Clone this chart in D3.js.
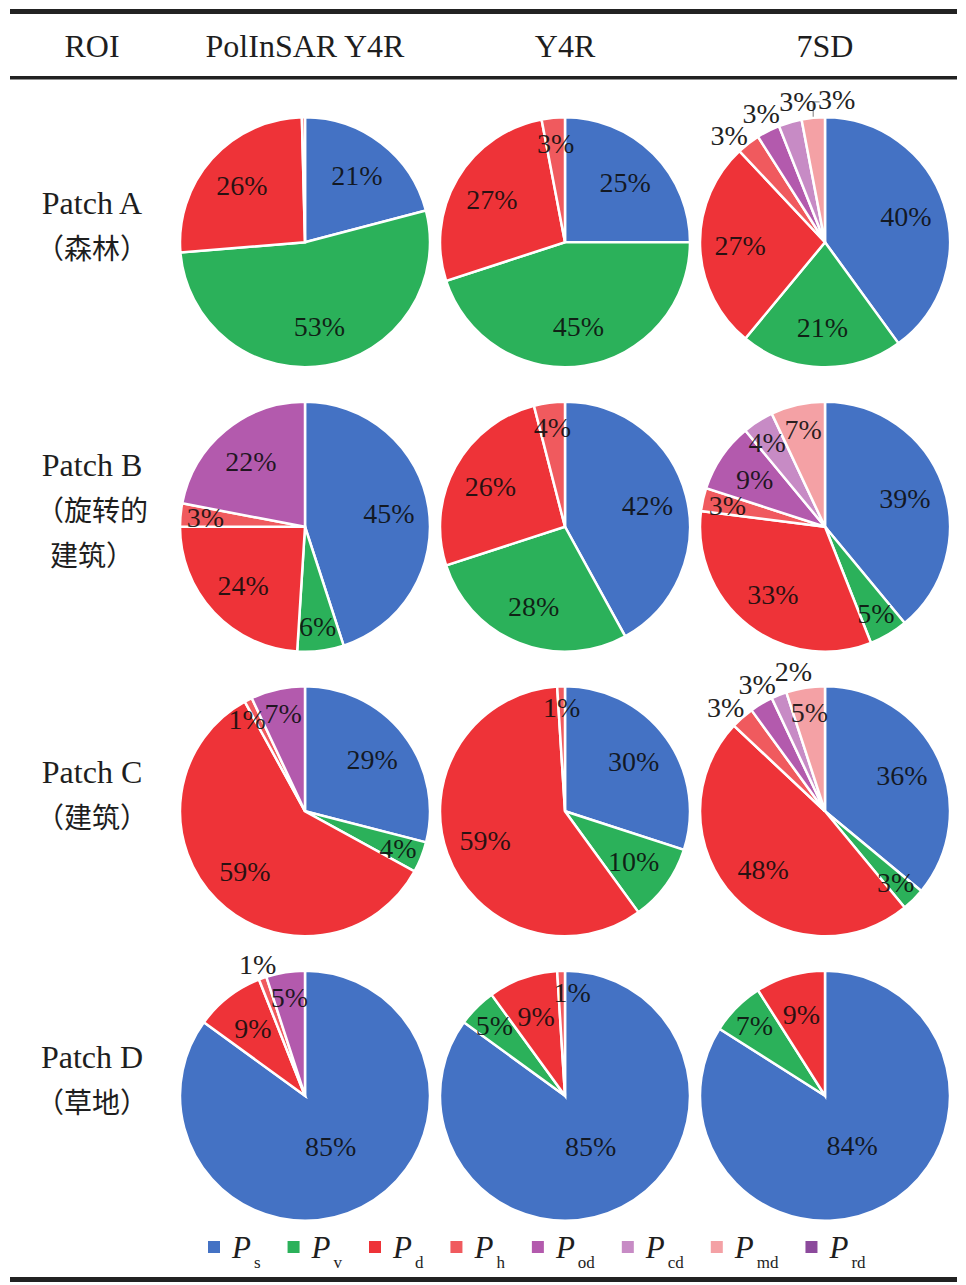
<!DOCTYPE html>
<html>
<head>
<meta charset="utf-8">
<script src="https://cdn.jsdelivr.net/npm/d3@7"></script>
<style>
body { margin: 0; background: #fff; }
svg text { font-family: "Liberation Serif", "DejaVu Serif", "Times New Roman", serif; fill: #1e1e1e; }
svg text.cjk { font-family: "Liberation Serif", "Noto Sans CJK SC", serif; }
</style>
</head>
<body>
<script>
var width = 966, height = 1285, r = 125;

var methods = ["PolInSAR Y4R", "Y4R", "7SD"];
var patches = ["Patch A", "Patch B", "Patch C", "Patch D"];
var patchNames = [["（森林）"], ["（旋转的", "建筑）"], ["（建筑）"], ["（草地）"]];
var components = ["s", "v", "d", "h", "od", "cd", "md", "rd"];

// percentages per patch, order: Ps Pv Pd Ph Pod Pcd Pmd Prd
var polinsarY4R = [
  [21, 53, 26, 0.4, 0, 0, 0, 0],
  [45, 6, 24, 3, 22, 0, 0, 0],
  [29, 4, 59, 1, 7, 0, 0, 0],
  [85, 0, 9, 1, 5, 0, 0, 0]
];
var y4r = [
  [25, 45, 27, 3, 0, 0, 0, 0],
  [42, 28, 26, 4, 0, 0, 0, 0],
  [30, 10, 59, 1, 0, 0, 0, 0],
  [85, 5, 9, 1, 0, 0, 0, 0]
];
var sd7 = [
  [40, 21, 27, 3, 3, 3, 3, 0],
  [39, 5, 33, 3, 9, 4, 7, 0],
  [36, 3, 48, 3, 3, 2, 5, 0],
  [84, 7, 9, 0, 0, 0, 0, 0]
];
var values = [polinsarY4R, y4r, sd7];

var colors = ["#4472c4", "#2bb15a", "#ee3338", "#f05a5e", "#b35aad", "#c78bc5", "#f4a1a5", "#8c4a9c"];

var svg = d3.select("body").append("svg")
    .attr("width", width)
    .attr("height", height);

var x = d3.scaleBand().domain(methods).range([175, 955]);
var y = d3.scaleBand().domain(patches).range([100, 1238]);
var color = d3.scaleOrdinal().domain(components).range(colors);

var pie = d3.pie().sort(null).value(function(d) { return d.v; });
var arc = d3.arc().innerRadius(0).outerRadius(r);
var deg = Math.PI / 180;

// table rules
svg.append("rect").attr("x", 10).attr("y", 9).attr("width", 947).attr("height", 5).attr("fill", "#222");
svg.append("rect").attr("x", 10).attr("y", 76).attr("width", 947).attr("height", 3.5).attr("fill", "#222");
svg.append("rect").attr("x", 10).attr("y", 1277).attr("width", 947).attr("height", 5).attr("fill", "#222");

// header
svg.append("text").attr("x", 92).attr("y", 57).attr("text-anchor", "middle")
   .style("font-size", "32px").text("ROI");
svg.selectAll(".head")
   .data(methods)
   .enter()
   .append("text")
   .attr("class", "head")
   .attr("x", function(d) { return x(d) + x.bandwidth() / 2; })
   .attr("y", 57)
   .attr("text-anchor", "middle")
   .style("font-size", "32px")
   .text(function(d) { return d; });

// row labels
patches.forEach(function(p, i) {
  var cy = y(p) + y.bandwidth() / 2;
  var lines = [p].concat(patchNames[i]);
  var y0 = cy - 5.5 - 45 * (lines.length - 1) / 2;
  lines.forEach(function(t, n) {
    svg.append("text")
       .attr("class", n ? "cjk" : null)
       .attr("x", 92)
       .attr("y", y0 + n * 45)
       .attr("text-anchor", "middle")
       .style("font-size", n ? "28px" : "32px")
       .text(t);
  });
});

// pies
patches.forEach(function(p, i) {
  methods.forEach(function(m, j) {
    var cx = x(m) + x.bandwidth() / 2, cy = y(p) + y.bandwidth() / 2;
    var data = values[j][i].map(function(v, k) { return {v: v, k: components[k]}; });
    var arcs = pie(data).filter(function(a) { return a.data.v > 0; });

    var g = svg.append("g").attr("transform", "translate(" + cx + "," + cy + ")");

    g.selectAll("path")
     .data(arcs)
     .enter()
     .append("path")
     .attr("d", arc)
     .attr("fill", function(d) { return color(d.data.k); })
     .attr("stroke", "#fff")
     .attr("stroke-width", 2.5);

    // label placement, roughly like Excel "best fit"
    var n = arcs.length, labels = [];
    arcs.forEach(function(a, idx) {
      var v = a.data.v;
      if (v < 0.5) return;
      var prev = arcs[(idx - 1 + n) % n].data.v, next = arcs[(idx + 1) % n].data.v;
      var outside = v <= 3 && (prev <= 3 || next <= 3 || (prev < 10 && next < 10));
      var frac = (a.endAngle - a.startAngle) / (2 * Math.PI);
      var k = outside ? 1.12 : frac > 0.7 ? 0.45 : v <= 1 ? 0.83 : frac < 0.08 ? 0.8 : 0.68;
      var mid = (a.startAngle + a.endAngle) / 2;
      labels.push({text: Math.round(v) + "%", v: v, k: k, mid: mid, ang: mid, outside: outside});
    });

    // spread groups of outer labels along the circle
    var outer = labels.filter(function(l) { return l.outside; });
    if (outer.length > 1) {
      var sep = 15.5 * deg;
      var mean = d3.mean(outer, function(l) { return l.mid; }) + 3 * deg;
      outer.forEach(function(l, q) {
        l.ang = mean + (q - (outer.length - 1) / 2) * sep;
        l.k = 1.15;
      });
    }
    labels.forEach(function(l) {
      l.x = Math.sin(l.ang) * l.k * r;
      l.y = -Math.cos(l.ang) * l.k * r;
    });

    // nudge overlapping inner labels sideways (smaller one moves)
    var inner = labels.filter(function(l) { return !l.outside; });
    inner.forEach(function(a) {
      inner.forEach(function(b) {
        if (a === b || a.v > b.v) return;
        var dx = a.x - b.x;
        if (Math.abs(dx) < 36 && Math.abs(a.y - b.y) < 25.5) {
          a.x = b.x + (dx >= 0 ? 36 : -36);
        }
      });
    });

    outer.forEach(function(l) {
      if (Math.abs(l.ang - l.mid) > 9 * deg) {
        var rx = Math.sin(l.mid) * r, ry = -Math.cos(l.mid) * r;
        g.append("path")
         .attr("d", "M" + rx + "," + (ry - 1) + "L" + rx + "," + (l.y + 3) + "L" + (l.x - 17) + "," + (l.y + 3))
         .attr("fill", "none")
         .attr("stroke", "#9a9a9a")
         .attr("stroke-width", 1.3);
      }
    });

    g.selectAll(".lab")
     .data(labels)
     .enter()
     .append("text")
     .attr("class", "lab")
     .attr("x", function(d) { return d.x; })
     .attr("y", function(d) { return d.y; })
     .attr("dy", "0.35em")
     .attr("text-anchor", "middle")
     .style("font-size", "28px")
     .style("fill", function(d) { return d.outside ? "#222" : "#0d0d0d"; })
     .style("fill-opacity", function(d) { return d.outside ? 1 : 0.88; })
     .text(function(d) { return d.text; });
  });
});

// legend
var cursor = 208;
components.forEach(function(c) {
  svg.append("rect")
     .attr("x", cursor).attr("y", 1241)
     .attr("width", 12).attr("height", 12)
     .attr("fill", color(c));
  var t = svg.append("text")
     .attr("x", cursor + 24)
     .attr("y", 1258)
     .style("font-size", "31px");
  t.append("tspan").style("font-style", "italic").text("P");
  t.append("tspan").attr("dx", 3).attr("dy", 10).style("font-size", "17px").text(c);
  cursor += 24 + t.node().getComputedTextLength() + 30;
});
</script>
</body>
</html>
